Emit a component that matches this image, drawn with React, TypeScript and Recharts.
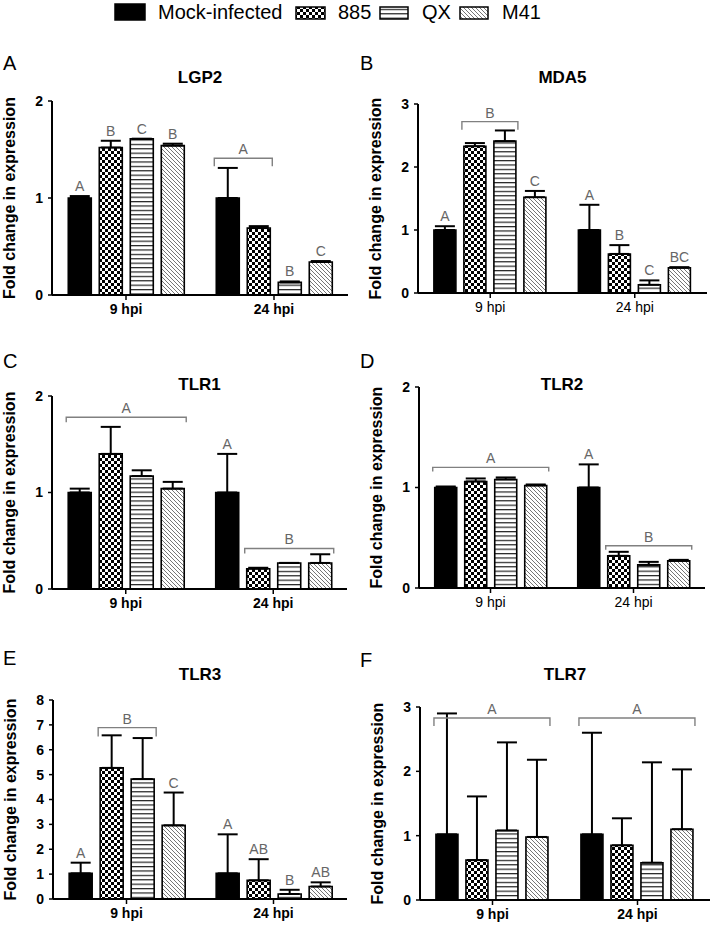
import React from "react";
import { BarChart, Bar, XAxis, YAxis, ErrorBar, LabelList } from "recharts";

const FONT = "'Liberation Sans', Arial, sans-serif";

const SERIES = ["Mock-infected", "885", "QX", "M41"];
const GROUPS = ["9 hpi", "24 hpi"];

// means / upper error per group (rows: 9 hpi, 24 hpi; cols: mock, 885, QX, M41)
const LGP2_MEAN = [[1.0, 1.52, 1.61, 1.54], [1.0, 0.69, 0.13, 0.34]];
const LGP2_ERR = [[0.02, 0.07, 0.0, 0.02], [0.31, 0.02, 0.01, 0.01]];
const LGP2_LETTERS = [["A", "B", "C", "B"], ["", "", "B", "C"]];
const LGP2_BRACKETS = [{ group: 1, from: 0, to: 1, level: 1.41, text: "A" }];

const MDA5_MEAN = [[1.0, 2.33, 2.41, 1.52], [1.0, 0.62, 0.13, 0.4]];
const MDA5_ERR = [[0.06, 0.05, 0.17, 0.1], [0.4, 0.14, 0.07, 0.01]];
const MDA5_LETTERS = [["A", "", "", "C"], ["A", "B", "C", "BC"]];
const MDA5_BRACKETS = [{ group: 0, from: 1, to: 2, level: 2.72, text: "B" }];

const TLR1_MEAN = [[1.0, 1.4, 1.17, 1.04], [1.0, 0.21, 0.27, 0.27]];
const TLR1_ERR = [[0.04, 0.28, 0.06, 0.07], [0.4, 0.01, 0.0, 0.09]];
const TLR1_LETTERS = [["", "", "", ""], ["A", "", "", ""]];
const TLR1_BRACKETS = [
  { group: 0, from: 0, to: 3, level: 1.78, text: "A" },
  { group: 1, from: 1, to: 3, level: 0.42, text: "B" },
];

const TLR2_MEAN = [[1.0, 1.06, 1.08, 1.02], [1.0, 0.32, 0.23, 0.27]];
const TLR2_ERR = [[0.01, 0.03, 0.02, 0.01], [0.23, 0.04, 0.03, 0.01]];
const TLR2_LETTERS = [["", "", "", ""], ["A", "", "", ""]];
const TLR2_BRACKETS = [
  { group: 0, from: 0, to: 3, level: 1.2, text: "A" },
  { group: 1, from: 1, to: 3, level: 0.42, text: "B" },
];

const TLR3_MEAN = [[1.03, 5.27, 4.82, 2.96], [1.03, 0.75, 0.2, 0.5]];
const TLR3_ERR = [[0.43, 1.31, 1.65, 1.32], [1.57, 0.85, 0.17, 0.17]];
const TLR3_LETTERS = [["A", "", "", "C"], ["A", "AB", "B", "AB"]];
const TLR3_BRACKETS = [{ group: 0, from: 1, to: 2, level: 6.89, text: "B" }];

const TLR7_MEAN = [[1.02, 0.62, 1.08, 0.98], [1.02, 0.85, 0.58, 1.1]];
const TLR7_ERR = [[1.88, 0.99, 1.37, 1.2], [1.58, 0.42, 1.56, 0.93]];
const TLR7_LETTERS = [["", "", "", ""], ["", "", "", ""]];
const TLR7_BRACKETS = [
  { group: 0, from: 0, to: 3, level: 2.83, text: "A" },
  { group: 1, from: 0, to: 3, level: 2.83, text: "A" },
];

const TICKS_2 = [0, 1, 2];
const TICKS_3 = [0, 1, 2, 3];
const TICKS_8 = [0, 1, 2, 3, 4, 5, 6, 7, 8];

type Bracket = { group: number; from: number; to: number; level: number; text: string };
type PanelDef = {
  id: string;
  letter: string;
  title: string;
  mean: number[][];
  err: number[][];
  letters: string[][];
  brackets: Bracket[];
  ticks: number[];
  col: number;
  x0: number;
  x1: number;
  yT: number;
  yB: number;
  boldX: boolean;
  drop: number;
  letterY: number;
  titleY: number;
};

const PANELS: PanelDef[] = [
  { id: "a", letter: "A", title: "LGP2", mean: LGP2_MEAN, err: LGP2_ERR, letters: LGP2_LETTERS, brackets: LGP2_BRACKETS, ticks: TICKS_2, col: 0, x0: 52, x1: 348, yT: 101, yB: 295, boldX: true, drop: 8, letterY: 70, titleY: 83 },
  { id: "b", letter: "B", title: "MDA5", mean: MDA5_MEAN, err: MDA5_ERR, letters: MDA5_LETTERS, brackets: MDA5_BRACKETS, ticks: TICKS_3, col: 357, x0: 418, x1: 707, yT: 104, yB: 293, boldX: false, drop: 8, letterY: 70, titleY: 83 },
  { id: "c", letter: "C", title: "TLR1", mean: TLR1_MEAN, err: TLR1_ERR, letters: TLR1_LETTERS, brackets: TLR1_BRACKETS, ticks: TICKS_2, col: 0, x0: 52, x1: 347, yT: 396, yB: 589, boldX: true, drop: 5, letterY: 368, titleY: 390 },
  { id: "d", letter: "D", title: "TLR2", mean: TLR2_MEAN, err: TLR2_ERR, letters: TLR2_LETTERS, brackets: TLR2_BRACKETS, ticks: TICKS_2, col: 357, x0: 419, x1: 705, yT: 387, yB: 588, boldX: false, drop: 4, letterY: 368, titleY: 390 },
  { id: "e", letter: "E", title: "TLR3", mean: TLR3_MEAN, err: TLR3_ERR, letters: TLR3_LETTERS, brackets: TLR3_BRACKETS, ticks: TICKS_8, col: 0, x0: 53, x1: 347, yT: 700, yB: 899, boldX: true, drop: 9, letterY: 665, titleY: 680 },
  { id: "f", letter: "F", title: "TLR7", mean: TLR7_MEAN, err: TLR7_ERR, letters: TLR7_LETTERS, brackets: TLR7_BRACKETS, ticks: TICKS_3, col: 357, x0: 420, x1: 710, yT: 707, yB: 900, boldX: true, drop: 8, letterY: 667, titleY: 680 },
];

const BAR_GAP = 8;
const MARGIN_TOP = 10;
const MARGIN_RIGHT = 6;
const XAXIS_H = 30;

function Patterns({ id }: { id: string }) {
  return (
    <defs>
      <pattern id={`chk-${id}`} width="6" height="6" patternUnits="userSpaceOnUse">
        <rect width="6" height="6" fill="#000" />
        <rect x="0" y="0" width="3" height="3" fill="#fff" />
        <rect x="3" y="3" width="3" height="3" fill="#fff" />
      </pattern>
      <pattern id={`hz-${id}`} width="4" height="4.4" patternUnits="userSpaceOnUse">
        <rect width="4" height="4.4" fill="#fff" />
        <rect y="0" width="4" height="1.2" fill="#222" />
      </pattern>
      <pattern id={`dg-${id}`} width="4" height="4" patternUnits="userSpaceOnUse">
        <rect width="4" height="4" fill="#fff" />
        <path d="M-1,-1 L5,5 M-1,3 L1,5 M3,-1 L5,1" stroke="#666" strokeWidth="0.9" />
      </pattern>
    </defs>
  );
}

const fills = (id: string) => ["#000", `url(#chk-${id})`, `url(#hz-${id})`, `url(#dg-${id})`];

function annotation(p: PanelDef, s: number) {
  return (props: any) => {
    const vb = props.viewBox && typeof props.viewBox.x === "number" ? props.viewBox : props;
    const x = Number(vb.x);
    const y = Number(vb.y);
    const w = Number(vb.width);
    const h = Number(vb.height);
    const g = typeof props.index === "number" ? props.index : Number(props.value);
    if (!isFinite(x) || !isFinite(g) || !p.mean[g]) return null;
    const mean = p.mean[g][s];
    const base = y + h;
    const py = (v: number) => base - (v * h) / mean;
    const parts: React.ReactNode[] = [];
    const letter = p.letters[g][s];
    if (letter) {
      parts.push(
        <text key="l" x={x + w / 2} y={py(mean + p.err[g][s]) - 5} textAnchor="middle" fontSize={14} fill="#666" fontFamily={FONT}>
          {letter}
        </text>
      );
    }
    p.brackets
      .filter((b) => b.group === g && b.from === s)
      .forEach((b, i) => {
        const x1 = x - 2;
        const x2 = x + (b.to - b.from) * (w + BAR_GAP) + w + 2;
        const yb = py(b.level);
        parts.push(
          <path key={`b${i}`} d={`M${x1},${yb + p.drop}V${yb}H${x2}V${yb + p.drop}`} fill="none" stroke="#808080" strokeWidth={1.4} />
        );
        parts.push(
          <text key={`t${i}`} x={(x1 + x2) / 2} y={yb - 4} textAnchor="middle" fontSize={14} fill="#666" fontFamily={FONT}>
            {b.text}
          </text>
        );
      });
    return <g>{parts}</g>;
  };
}

function Panel({ p }: { p: PanelDef }) {
  const data = GROUPS.map((name, g) => {
    const row: Record<string, any> = { name, gi: g };
    SERIES.forEach((_, s) => {
      row[`s${s}`] = p.mean[g][s];
      row[`e${s}`] = [0, p.err[g][s]];
    });
    return row;
  });
  const width = p.x1 + MARGIN_RIGHT - p.col;
  const height = p.yB - p.yT + MARGIN_TOP + XAXIS_H;
  const f = fills(p.id);
  const max = p.ticks[p.ticks.length - 1];
  return (
    <div style={{ position: "absolute", left: p.col, top: p.yT - MARGIN_TOP }}>
      <BarChart
        width={width}
        height={height}
        data={data}
        margin={{ top: MARGIN_TOP, right: MARGIN_RIGHT, bottom: 0, left: 0 }}
        barCategoryGap="11%"
        barGap={BAR_GAP}
        style={{ overflow: "visible" }}
      >
        <Patterns id={p.id} />
        <XAxis
          dataKey="name"
          height={XAXIS_H}
          axisLine={{ stroke: "#000", strokeWidth: 2 }}
          tickLine={{ stroke: "#000", strokeWidth: 1.5 }}
          tickSize={5}
          tickMargin={4}
          tick={{ fontSize: 14, fontWeight: p.boldX ? 700 : 400, fill: "#000", fontFamily: FONT }}
        />
        <YAxis
          width={p.x0 - p.col}
          domain={[0, max]}
          ticks={p.ticks}
          interval={0}
          axisLine={{ stroke: "#000", strokeWidth: 2 }}
          tickLine={{ stroke: "#000", strokeWidth: 1.5 }}
          tickSize={4}
          tickMargin={5}
          tick={{ fontSize: 14, fontWeight: 700, fill: "#000", fontFamily: FONT }}
        />
        {SERIES.map((name, s) => (
          <Bar key={name} dataKey={`s${s}`} name={name} fill={f[s]} stroke="#000" strokeWidth={1.6} isAnimationActive={false}>
            <ErrorBar dataKey={`e${s}`} direction="y" width={10} stroke="#000" strokeWidth={2} isAnimationActive={false} />
            <LabelList dataKey="gi" content={annotation(p, s)} />
          </Bar>
        ))}
      </BarChart>
    </div>
  );
}

function Legend() {
  const sw = [
    { x: 115, y: 4, w: 30, h: 16, tx: 158 },
    { x: 296, y: 7, w: 29, h: 12, tx: 338 },
    { x: 380, y: 7, w: 28, h: 12, tx: 422 },
    { x: 460, y: 7, w: 28, h: 12, tx: 502 },
  ];
  const f = fills("lg");
  return (
    <svg width={714} height={30} style={{ position: "absolute", left: 0, top: 0 }}>
      <Patterns id="lg" />
      {SERIES.map((name, i) => (
        <g key={name}>
          <rect x={sw[i].x} y={sw[i].y} width={sw[i].w} height={sw[i].h} fill={f[i]} stroke="#000" strokeWidth={1.5} />
          <text x={sw[i].tx} y={19} fontSize={20} fontFamily={FONT} fill="#000">
            {name}
          </text>
        </g>
      ))}
    </svg>
  );
}

function Overlay() {
  return (
    <svg width={714} height={932} style={{ position: "absolute", left: 0, top: 0, pointerEvents: "none" }}>
      {PANELS.map((p) => {
        const cy = (p.yT + p.yB) / 2;
        const lx = p.x0 - 37;
        return (
          <g key={p.id} fontFamily={FONT}>
            <text x={p.col + 3} y={p.letterY} fontSize={20} fill="#000">
              {p.letter}
            </text>
            <text x={(p.x0 + p.x1) / 2} y={p.titleY} fontSize={17} fontWeight={700} textAnchor="middle" fill="#000">
              {p.title}
            </text>
            <text x={lx} y={cy} fontSize={16} fontWeight={700} textAnchor="middle" fill="#000" transform={`rotate(-90 ${lx} ${cy})`}>
              Fold change in expression
            </text>
          </g>
        );
      })}
    </svg>
  );
}

export default function App() {
  return (
    <div style={{ position: "absolute", left: 0, top: 0, width: 714, height: 932, background: "#fff", fontFamily: FONT }}>
      <Legend />
      {PANELS.map((p) => (
        <Panel key={p.id} p={p} />
      ))}
      <Overlay />
    </div>
  );
}
